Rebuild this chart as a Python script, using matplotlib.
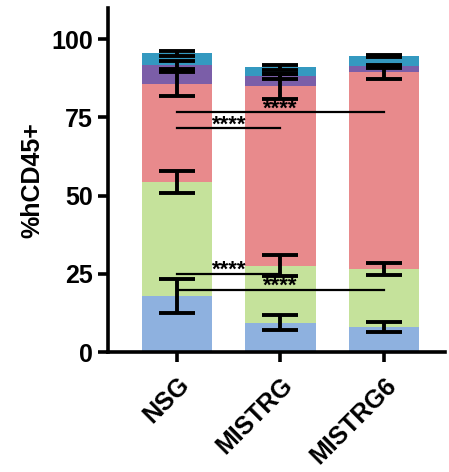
import numpy as np
import matplotlib
matplotlib.use('Agg')
import matplotlib.pyplot as plt

groups = ['NSG', 'MISTRG', 'MISTRG6']
layers = ['blue', 'green', 'pink', 'purple', 'cyan']
colors = ['#8EB1DF', '#C5E29B', '#E88A8C', '#7B5EA8', '#3499C0']

# segment heights (% of hCD45+) per group, bottom to top
blue = [18.0, 9.4, 8.0]
green = [36.5, 18.2, 18.6]
pink = [31.1, 57.3, 62.8]
purple = [6.1, 3.2, 1.9]
cyan = [3.8, 2.9, 3.3]

blue_err = [5.5, 2.3, 1.7]
green_err = [3.5, 3.4, 1.9]
pink_err = [3.8, 4.0, 2.1]
purple_err = [1.3, 0.7, 0.4]
cyan_err = [0.8, 0.7, 0.4]

values = [blue, green, pink, purple, cyan]
errors = [blue_err, green_err, pink_err, purple_err, cyan_err]

# significance brackets: (from group, to group, y, text x)
sig = [(0, 1, 71.5, 0.5), (0, 2, 76.6, 1.0), (0, 1, 25.0, 0.5), (0, 2, 19.9, 1.0)]

plt.rcParams['font.family'] = ['Liberation Sans', 'DejaVu Sans']
plt.rcParams['font.weight'] = 'bold'

fig = plt.figure(figsize=(4.49, 4.72), dpi=100)
ax = fig.add_axes([108 / 449, 1 - 352 / 472, 337 / 449, 344 / 472])

x = np.arange(len(groups))
bottom = np.zeros(len(groups))
tops = []
for vals, errs, c in zip(values, errors, colors):
    ax.bar(x, vals, 0.68, bottom=bottom, color=c, zorder=1)
    top = bottom + np.array(vals)
    tops.append((top.copy(), errs))
    bottom = top

for top, errs in tops:
    ax.errorbar(x, top, yerr=errs, fmt='none', ecolor='black',
                elinewidth=2.8, capsize=13, capthick=2.8, zorder=3)

for a, b, y, tx in sig:
    ax.plot([a, b], [y, y], color='black', lw=1.6, zorder=4)
    ax.text(tx, y - 2.2, '****', ha='center', va='bottom', fontsize=16,
            fontweight='bold', zorder=5)

ax.set_xlim(-0.667, 2.59)
ax.set_ylim(0, 110)
ax.set_yticks([0, 25, 50, 75, 100])
ax.set_xticks(x)
ax.set_xticklabels(groups, rotation=45, ha='right', rotation_mode='anchor',
                   fontsize=18, fontweight='bold')
ax.tick_params(axis='y', labelsize=18, width=2.6, length=7, pad=4)
ax.tick_params(axis='x', width=2.6, length=7, pad=8)
ax.set_ylabel('%hCD45+', fontsize=18, fontweight='bold', labelpad=5)
for lbl in ax.get_yticklabels():
    lbl.set_fontweight('bold')

for s in ['top', 'right']:
    ax.spines[s].set_visible(False)
for s in ['left', 'bottom']:
    ax.spines[s].set_linewidth(2.6)

fig.savefig('out.png', dpi=100)
